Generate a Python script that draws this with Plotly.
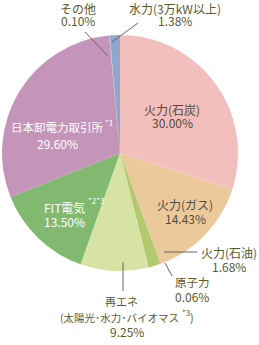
import plotly.graph_objects as go

W, H = 259, 345

categories = ["火力(石炭)", "火力(ガス)", "火力(石油)", "原子力", "再エネ(太陽光・水力・バイオマス)",
              "FIT電気", "日本卸電力取引所", "その他", "水力(3万kW以上)"]
values = [30.00, 14.43, 1.68, 0.06, 9.25, 13.50, 29.60, 0.10, 1.38]
pct_labels = ["30.00%", "14.43%", "1.68%", "0.06%", "9.25%", "13.50%", "29.60%", "0.10%", "1.38%"]
colors = ["#f2bfbd", "#ebc99b", "#b2c96f", "#e4df8c", "#d6e3a5",
          "#82b970", "#c495b9", "#b4b4d2", "#8fa7cc"]

# name line of each label: (text, x, y, size) in pixels, percent line: (x, y)
name_lines = [
    ("火力(石炭)", 172, 109, 12),
    ("火力(ガス)", 185, 204, 12),
    ("火力(石油)", 229, 252, 12),
    ("原子力", 192, 282, 11.5),
    ("再エネ", 121, 301, 11),
    ("FIT電気", 64, 207, 12),
    ("日本卸電力取引所", 57, 127, 11.5),
    ("その他", 78, 8, 12),
    ("水力(3万kW以上)", 175, 8, 12),
]
pct_pos = [(172, 123), (185, 218), (229, 266), (192, 296), (127, 331),
           (64, 221), (57, 143), (78, 21), (175, 21)]
label_colors = ["#4f4c3c", "#4f4c3c", "#5a5a2c", "#5a5a2c", "#5a5a2c",
                "#ffffff", "#ffffff", "#5a5a2c", "#5a5a2c"]

# second line of the renewable label
renew_line2 = "(太陽光･水力･バイオマス"

# superscript notes: (text, x, y, color)
notes = [("*1", 104, 122, "#ffffff"), ("*2*3", 87, 200, "#ffffff"), ("*3", 181, 312, "#5a5a2c")]

leaders = [((85, 32), (108, 56)), ((138, 23), (112, 42)), ((164, 252), (197, 252)),
           ((165, 263), (172, 276)), ((123, 262), (123, 291))]

cx, cy, r = 120, 153, 118
FONT = "Noto Sans CJK JP"


def px(x, y):
    return x / W, 1 - y / H


fig = go.Figure(go.Pie(
    labels=categories, values=values, sort=False, direction="clockwise", rotation=0,
    marker=dict(colors=colors, line=dict(width=0)),
    textinfo="none", hoverinfo="label+percent", showlegend=False,
    domain=dict(x=[(cx - r) / W, (cx + r) / W], y=[(H - cy - r) / H, (H - cy + r) / H]),
))

for (x0, y0), (x1, y1) in leaders:
    a0, b0 = px(x0, y0)
    a1, b1 = px(x1, y1)
    fig.add_shape(type="line", xref="paper", yref="paper", x0=a0, y0=b0, x1=a1, y1=b1,
                  line=dict(color="#666666", width=1))


def add_text(t, x, y, size, color, xanchor="center"):
    a, b = px(x, y)
    fig.add_annotation(text=t, xref="paper", yref="paper", x=a, y=b,
                       xanchor=xanchor, yanchor="middle", showarrow=False, borderpad=0,
                       font=dict(size=size, color=color, family=FONT))


for (t, x, y, s), (pxx, pyy), pct, c in zip(name_lines, pct_pos, pct_labels, label_colors):
    add_text(t, x, y, s, c)
    add_text(pct, pxx, pyy, 12, c)

add_text(renew_line2, 180, 317, 10.5, "#5a5a2c", xanchor="right")
add_text(")", 189, 317, 11, "#5a5a2c", xanchor="left")

for t, x, y, c in notes:
    add_text(t, x, y, 8, c, xanchor="left")

fig.update_layout(width=W, height=H, margin=dict(l=0, r=0, t=0, b=0),
                  paper_bgcolor="white", plot_bgcolor="white",
                  font=dict(family=FONT))

fig.write_html("out.html")
